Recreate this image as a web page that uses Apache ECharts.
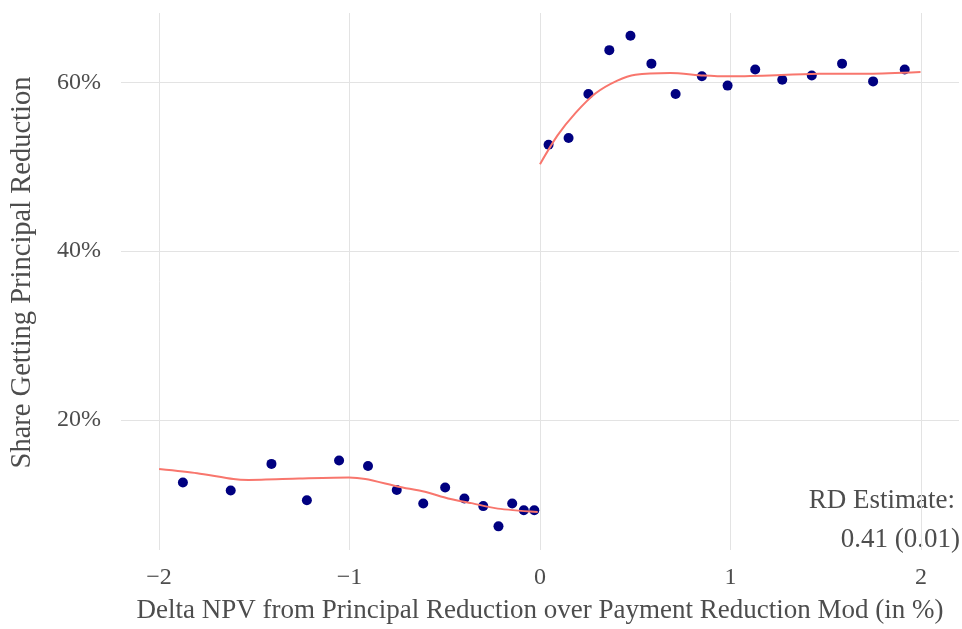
<!DOCTYPE html>
<html>
<head>
<meta charset="utf-8">
<script src="https://cdn.jsdelivr.net/npm/echarts@6/dist/echarts.min.js"></script>
<style>
  html, body { margin: 0; padding: 0; background: #fff; }
  #main { width: 962px; height: 629px; }
</style>
</head>
<body>
<div id="main"></div>
<script>
// binned means, left of cutoff
var leftBinX = [-1.875, -1.624, -1.41, -1.224, -1.055, -0.903, -0.752, -0.613, -0.498, -0.397, -0.298, -0.218, -0.146, -0.085, -0.030];
var leftBinY = [12.6, 11.65, 14.8, 10.5, 15.2, 14.55, 11.7, 10.1, 12.0, 10.7, 9.8, 7.4, 10.1, 9.3, 9.3];
// binned means, right of cutoff
var rightBinX = [0.045, 0.150, 0.254, 0.364, 0.475, 0.585, 0.712, 0.85, 0.985, 1.13, 1.272, 1.427, 1.586, 1.749, 1.915];
var rightBinY = [52.6, 53.4, 58.6, 63.8, 65.5, 62.2, 58.6, 60.7, 59.6, 61.5, 60.3, 60.8, 62.2, 60.1, 61.5];
// fitted curves
var leftFitX = [-2.0, -1.8, -1.61, -1.53, -1.265, -1.004, -0.917, -0.743, -0.604, -0.482, -0.36, -0.221, -0.012];
var leftFitY = [14.2, 13.7, 13.0, 12.9, 13.06, 13.18, 13.0, 12.1, 11.5, 10.7, 10.15, 9.5, 9.1];
var rightFitX = [0, 0.092, 0.188, 0.292, 0.406, 0.501, 0.684, 0.858, 0.997, 1.206, 1.467, 1.728, 1.998];
var rightFitY = [50.3, 53.7, 56.4, 58.7, 60.2, 60.9, 61.1, 60.8, 60.7, 60.8, 61.0, 61.0, 61.2];
var xTicks = [-2, -1, 0, 1, 2];
var yTicks = [20, 40, 60];
var annotation = ['RD Estimate:', '0.41 (0.01)'];

function pairs(xs, ys) {
    var rs = [];
    for (var i = 0; i < xs.length; i++) rs.push([xs[i], ys[i]]);
    return rs;
}

var font = '"Liberation Serif", "DejaVu Serif", serif';
var textColor = '#4d4d4d';
var gridColor = '#e3e3e3';

var chart = echarts.init(document.getElementById('main'));
chart.setOption({
    animation: false,
    textStyle: { fontFamily: font },
    grid: { left: 118, right: 3, top: 13, bottom: 76, containLabel: false },
    xAxis: {
        type: 'value',
        min: -2.2,
        max: 2.2,
        splitNumber: 5,
        name: 'Delta NPV from Principal Reduction over Payment Reduction Mod (in %)',
        nameLocation: 'middle',
        nameGap: 47,
        nameTextStyle: { fontFamily: font, fontSize: 27, color: textColor },
        axisLine: { show: false },
        axisTick: { show: false },
        axisLabel: {
            fontFamily: font, fontSize: 24, color: textColor, margin: 16,
            showMinLabel: false, showMaxLabel: false,
            formatter: function (v) {
                return xTicks.indexOf(v) >= 0 ? String(v).replace('-', '\u2212') : '';
            }
        },
        splitLine: { show: false }
    },
    yAxis: {
        type: 'value',
        min: 4.6,
        max: 68.2,
        splitNumber: 3,
        name: 'Share Getting Principal Reduction',
        nameLocation: 'middle',
        nameGap: 84,
        nameTextStyle: { fontFamily: font, fontSize: 28.5, color: textColor, padding: [0, 0, 0, 18] },
        axisLine: { show: false },
        axisTick: { show: false },
        axisLabel: {
            fontFamily: font, fontSize: 24, color: textColor, margin: 20,
            showMinLabel: false, showMaxLabel: false,
            formatter: function (v) {
                return yTicks.indexOf(v) >= 0 ? v + '%' : '';
            }
        },
        splitLine: { show: false }
    },
    graphic: [{
        type: 'text',
        right: 7,
        top: 487,
        style: { text: annotation[0], font: '27px ' + font, fill: textColor, textAlign: 'right' }
    }, {
        type: 'text',
        right: 2,
        top: 526,
        style: { text: annotation[1], font: '27px ' + font, fill: textColor, textAlign: 'right' }
    }],
    series: [{
        type: 'line',
        data: [],
        silent: true,
        z: 1,
        markLine: {
            silent: true,
            z: 1,
            symbol: 'none',
            label: { show: false },
            lineStyle: { color: gridColor, width: 1, type: 'solid' },
            data: xTicks.map(function (v) { return { xAxis: v }; })
                .concat(yTicks.map(function (v) { return { yAxis: v }; }))
        }
    }, {
        type: 'scatter',
        data: pairs(leftBinX, leftBinY),
        symbolSize: 10,
        itemStyle: { color: '#000080', opacity: 1 },
        z: 3
    }, {
        type: 'scatter',
        data: pairs(rightBinX, rightBinY),
        symbolSize: 10,
        itemStyle: { color: '#000080', opacity: 1 },
        z: 3
    }, {
        type: 'line',
        data: pairs(leftFitX, leftFitY),
        showSymbol: false,
        smooth: 0.25,
        lineStyle: { color: '#F8766D', width: 2 },
        z: 4
    }, {
        type: 'line',
        data: pairs(rightFitX, rightFitY),
        showSymbol: false,
        smooth: 0.25,
        lineStyle: { color: '#F8766D', width: 2 },
        z: 4
    }]
});
</script>
</body>
</html>
